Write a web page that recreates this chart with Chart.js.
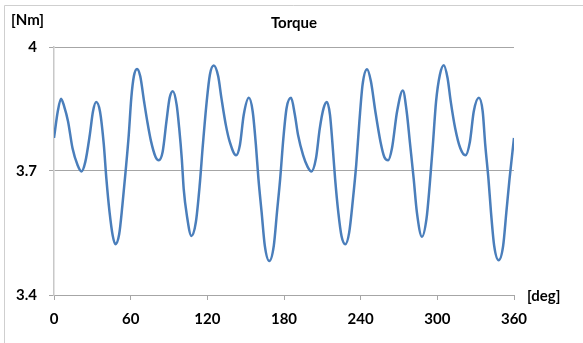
<!DOCTYPE html>
<html>
<head>
<meta charset="utf-8">
<script src="https://cdn.jsdelivr.net/npm/chart.js@4"></script>
<style>
  html, body { margin: 0; padding: 0; background: #fff; }
  #wrap { width: 583px; height: 343px; position: relative; }
</style>
</head>
<body>
<div id="wrap"><canvas id="torque"></canvas></div>
<script>
// TORQUE vs ANGLE

const angles = [0, 3, 5.5, 8, 11, 14.5, 18.5, 21.5, 24.5, 28, 30.5, 33, 36, 39, 41, 43.5, 46, 48, 51, 53.5, 56, 58.5, 60.5, 62.5, 65, 67.5, 70.5, 73, 76, 79.5, 82, 85, 88, 90.5, 93, 96, 98, 100, 101.5, 104, 107.5, 111, 114, 116.5, 119.5, 122, 125, 128.5, 131, 134.5, 137.5, 142.5, 145.5, 148.5, 152.5, 155.5, 158, 160, 162.5, 165, 168.5, 172, 174.5, 177, 179.5, 182, 185.5, 188.5, 191, 195, 198.5, 201.5, 205, 208, 211, 213.5, 216, 218, 220, 222.5, 225, 228, 231, 234, 236.5, 239, 241.5, 245, 248, 251.5, 255.5, 258.5, 261.5, 264.5, 268.5, 273, 276, 278.5, 281.5, 284, 288, 291.5, 294, 296.5, 299, 302, 305, 308, 310.5, 314, 318, 322, 325.5, 328.5, 332.5, 335.5, 337.5, 340, 342, 344.5, 348, 351.5, 354, 356.5, 360];

const torque = [3.78, 3.845, 3.875, 3.856, 3.82, 3.755, 3.714, 3.699, 3.722, 3.787, 3.844, 3.867, 3.844, 3.763, 3.681, 3.60, 3.543, 3.523, 3.547, 3.616, 3.698, 3.787, 3.877, 3.929, 3.947, 3.929, 3.868, 3.82, 3.771, 3.734, 3.726, 3.746, 3.82, 3.877, 3.893, 3.86, 3.803, 3.73, 3.657, 3.592, 3.543, 3.576, 3.665, 3.763, 3.868, 3.933, 3.955, 3.929, 3.877, 3.811, 3.771, 3.738, 3.763, 3.836, 3.877, 3.844, 3.763, 3.681, 3.60, 3.519, 3.482, 3.519, 3.60, 3.681, 3.779, 3.852, 3.877, 3.836, 3.787, 3.738, 3.71, 3.699, 3.73, 3.803, 3.852, 3.867, 3.836, 3.763, 3.681, 3.60, 3.543, 3.523, 3.551, 3.633, 3.714, 3.82, 3.909, 3.946, 3.917, 3.844, 3.771, 3.734, 3.726, 3.755, 3.844, 3.895, 3.844, 3.77, 3.681, 3.60, 3.541, 3.584, 3.665, 3.763, 3.868, 3.933, 3.956, 3.925, 3.868, 3.803, 3.755, 3.738, 3.771, 3.844, 3.877, 3.844, 3.763, 3.681, 3.60, 3.519, 3.484, 3.519, 3.60, 3.681, 3.78];

const xTicks = [0, 60, 120, 180, 240, 300, 360];
const yTicks = [3.4, 3.7, 4];

const points = angles.map((a, i) => ({ x: a, y: torque[i] }));

const FONT = 'Lato, "Open Sans", sans-serif';
const gridGray = '#a6a6a6';

// frame + captions
const extras = {
  id: 'extras',
  beforeDraw(chart) {
    const c = chart.ctx;
    c.save();
    c.fillStyle = '#fff';
    c.fillRect(0, 0, chart.width, chart.height);
    c.strokeStyle = '#cfcfcf';
    c.lineWidth = 1;
    c.beginPath();
    c.moveTo(4.5, chart.height);
    c.lineTo(4.5, 5.5);
    c.lineTo(chart.width, 5.5);
    c.stroke();
    c.restore();
  },
  afterDraw(chart) {
    const c = chart.ctx;
    c.save();
    c.fillStyle = '#000';
    c.font = 'bold 15px ' + FONT;
    c.textBaseline = 'middle';
    c.textAlign = 'left';
    c.fillText('[Nm]', 11, 20);
    c.fillText('[deg]', 527, 296);
    c.textAlign = 'center';
    c.fillText('Torque', 294, 23);
    c.restore();
  }
};

const ctx = document.querySelector('#torque').getContext('2d');
ctx.canvas.parentNode.style.height = '343px';
ctx.canvas.parentNode.style.width = '583px';

const torqueChart = new Chart(ctx, {
  type: 'line',
  data: {
    datasets: [{
      label: 'Torque',
      data: points,
      borderColor: '#4a7ebb',
      borderWidth: 2.5,
      pointRadius: 0,
      cubicInterpolationMode: 'monotone',
      fill: false
    }]
  },
  options: {
    responsive: true,
    maintainAspectRatio: false,
    animation: false,
    layout: { padding: { left: 0, top: 47, right: 69, bottom: 0 } },
    plugins: {
      legend: { display: false },
      tooltip: { enabled: false }
    },
    scales: {
      x: {
        type: 'linear',
        min: 0,
        max: 360,
        afterBuildTicks: s => { s.ticks = xTicks.map(v => ({ value: v })); },
        afterFit: s => { s.height = 48; },
        grid: { drawOnChartArea: false, drawTicks: true, tickLength: 5, color: gridGray },
        border: { display: true, color: gridGray, width: 1 },
        ticks: { color: '#000', font: { family: FONT, size: 15, weight: 'bold' }, padding: 10, maxRotation: 0 }
      },
      y: {
        min: 3.4,
        max: 4,
        afterBuildTicks: s => { s.ticks = yTicks.map(v => ({ value: v })); },
        afterFit: s => { s.width = 54; },
        grid: { drawOnChartArea: true, drawTicks: true, tickLength: 5, color: gridGray },
        border: { display: true, color: '#c8c8c8', width: 1.5 },
        ticks: {
          color: '#000',
          font: { family: FONT, size: 15, weight: 'bold' },
          padding: 12,
          callback: v => String(v)
        }
      }
    }
  },
  plugins: [extras]
});
</script>
</body>
</html>
